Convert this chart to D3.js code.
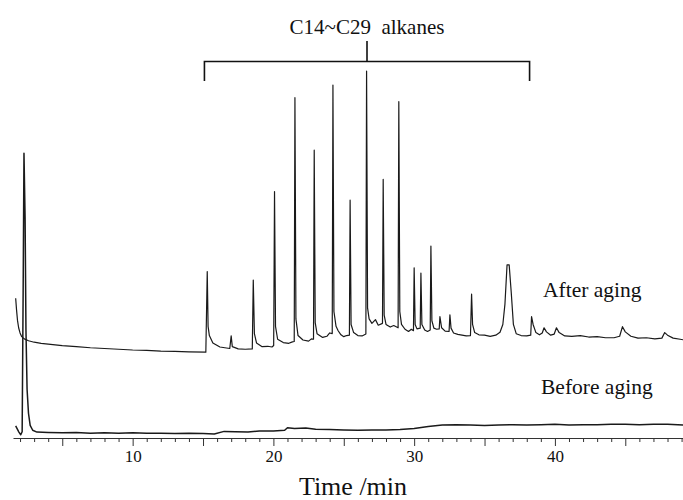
<!DOCTYPE html>
<html>
<head>
<meta charset="utf-8">
<script src="https://cdn.jsdelivr.net/npm/d3@7"></script>
<style>
  html, body { margin: 0; padding: 0; background: #fff; }
  svg { display: block; }
</style>
</head>
<body>
<div id="chart"></div>
<script>
// GC chromatogram: after aging (upper) and before aging (lower)
// [time (min), signal]
const afterAging = [
  [1.69, 38.6], [1.75, 35.5], [1.82, 32.6], [1.9, 30.6], [2.0, 29.2], [2.12, 28.2], [2.3, 27.6],
  [2.6, 27.1], [3.0, 26.7], [3.5, 26.4], [4.0, 26.2], [5.0, 25.8], [6.0, 25.5], [7.0, 25.2],
  [8.0, 25.0], [9.0, 24.8], [10.0, 24.6], [11.0, 24.5], [12.0, 24.3], [13.0, 24.2], [14.0, 24.1],
  [15.2, 24.0],
  [15.3, 45.8], [15.36, 31], [15.45, 28.5], [15.7, 26.5], [16.2, 25.4], [16.9, 25.0],
  [17.0, 28.4], [17.08, 25.5], [17.5, 24.9], [18.0, 24.8], [18.5, 24.9],
  [18.57, 43.5], [18.65, 29], [18.8, 26.5], [19.2, 25.5], [19.6, 25.6], [19.9, 25.4], [20.02, 25.8],
  [20.08, 67.4], [20.15, 31], [20.3, 27.5], [20.7, 26.6], [21.1, 26.4], [21.35, 26.8], [21.48, 26.9],
  [21.53, 92.8], [21.6, 33], [21.75, 28.5], [22.1, 27.3], [22.5, 27.0], [22.7, 27.6], [22.85, 27.5],
  [22.9, 78.6], [22.97, 32], [23.1, 29], [23.5, 28], [23.8, 28.3], [24.0, 29.2], [24.18, 29.0],
  [24.23, 96.2], [24.3, 35], [24.45, 31], [24.6, 29.8], [24.8, 28.7], [25.0, 28.2], [25.2, 28.5], [25.4, 28.6],
  [25.45, 65.1], [25.52, 31.5], [25.7, 29.3], [26.0, 28.5], [26.3, 28.4], [26.57, 28.9],
  [26.62, 100], [26.69, 36], [26.8, 33], [27.0, 31.8], [27.25, 32.8], [27.45, 31.3], [27.75, 31.8],
  [27.8, 70.7], [27.87, 34], [28.0, 31.5], [28.3, 30.8], [28.55, 31.2], [28.86, 30.6],
  [28.91, 91.7], [28.98, 35], [29.1, 31.5], [29.35, 30.2], [29.6, 29.6], [29.8, 30.2], [29.95, 29.8],
  [30.0, 46.8], [30.07, 31.5], [30.2, 30.3], [30.43, 30.5],
  [30.48, 45.4], [30.55, 31.5], [30.75, 30.0], [30.95, 29.6], [31.14, 30.0],
  [31.19, 52.7], [31.26, 32.5], [31.4, 30.5], [31.6, 30.2], [31.78, 30.3],
  [31.83, 33.6], [31.95, 30.6], [32.2, 29.7], [32.48, 29.6],
  [32.54, 34.1], [32.62, 30.5], [32.8, 29.2], [33.1, 28.8], [33.4, 28.6], [33.7, 28.4], [34.0, 28.5],
  [34.08, 39.7], [34.15, 31.5], [34.3, 29.3], [34.6, 28.7], [35.0, 28.6], [35.4, 28.3], [35.8, 28.6], [36.1, 29.4],
  [36.3, 31.5], [36.45, 37], [36.6, 47.6], [36.75, 47.6], [36.9, 40], [37.05, 31.5], [37.25, 29.0],
  [37.6, 28.5], [38.0, 28.4], [38.28, 28.6],
  [38.34, 33.6], [38.45, 31.5], [38.65, 29.3], [38.9, 28.7], [39.1, 29.2], [39.23, 30.6], [39.4, 29.5],
  [39.7, 28.6], [39.95, 28.9], [40.11, 30.6], [40.3, 29.3], [40.7, 28.4], [41.2, 28.3], [41.8, 28.5],
  [42.4, 28.1], [43.0, 28.2], [43.6, 27.9], [44.2, 27.9], [44.6, 28.3], [44.8, 30.9], [45.0, 29.5],
  [45.4, 28.3], [45.9, 27.8], [46.5, 27.9], [47.1, 27.6], [47.6, 27.8], [47.8, 29.3], [48.0, 28.6],
  [48.4, 27.8], [48.9, 27.5], [49.2, 27.3]
];

const beforeAging = [
  [1.69, 4.1], [1.8, 3.3], [1.92, 2.4], [2.05, 1.7], [2.15, 2.5], [2.22, 40], [2.28, 77.8],
  [2.36, 60], [2.42, 30], [2.5, 14], [2.6, 7.5], [2.72, 4.2], [2.9, 2.9], [3.2, 2.4], [4.0, 2.3],
  [5.0, 2.2], [6.0, 2.3], [7.0, 2.1], [8.0, 2.2], [9.0, 2.1], [10.0, 2.2], [11.0, 2.1], [12.0, 2.1],
  [13.0, 2.0], [14.0, 2.1], [15.0, 2.0], [15.8, 1.9], [16.5, 2.6], [17.3, 2.5], [18.2, 2.4],
  [19.0, 2.7], [20.0, 2.7], [20.8, 2.9], [21.0, 3.6], [21.5, 3.4], [22.3, 3.5], [23.0, 3.2],
  [24.0, 3.1], [25.0, 3.0], [26.0, 2.9], [27.0, 3.0], [28.0, 3.0], [29.0, 3.1], [30.0, 3.4],
  [31.0, 3.9], [32.0, 4.3], [33.0, 4.4], [34.0, 4.3], [35.0, 4.2], [36.0, 4.3], [37.0, 4.4],
  [38.0, 4.3], [39.0, 4.4], [40.0, 4.5], [41.0, 4.3], [42.0, 4.4], [43.0, 4.4], [44.0, 4.5],
  [45.0, 4.5], [46.0, 4.4], [47.0, 4.5], [48.0, 4.5], [49.2, 4.3]
];

const tickLabels = [10, 20, 30, 40];
const alkaneRange = [15.1, 38.2];   // C14 ... C29 bracket
const alkaneLabel = 'C14~C29\u00a0\u00a0alkanes';

const width = 683, height = 500;
const serif = '"Liberation Serif", "Times New Roman", serif';

const svg = d3.select('#chart').append('svg')
  .attr('width', width)
  .attr('height', height)
  .attr('font-family', serif);

// x: time in minutes, 10 min ≈ 141 px
const x = d3.scaleLinear().domain([1.5, 49.1]).range([13, 683]);
const y = d3.scaleLinear().domain([0, 100]).range([441, 71]);
const axisY = 438;

const line = d3.line()
  .x(d => x(d[0]))
  .y(d => y(d[1]));

// traces
[beforeAging, afterAging].forEach((series, i) => {
  svg.append('path')
    .datum(series)
    .attr('d', line)
    .attr('fill', 'none')
    .attr('stroke', '#1a1a1a')
    .attr('stroke-width', i === 0 ? 1.5 : 1.2)
    .attr('stroke-linejoin', 'round');
});

// time axis: minor ticks each minute, longer every 5
const axis = d3.axisBottom(x)
  .tickValues(d3.range(2, 50))
  .tickSize(4)
  .tickSizeOuter(0)
  .tickFormat(d => tickLabels.includes(d) ? d : '');

const gAxis = svg.append('g')
  .attr('transform', `translate(0,${axisY})`)
  .call(axis);

gAxis.select('.domain').attr('stroke', '#333').attr('stroke-width', 1);
gAxis.selectAll('.tick line')
  .attr('stroke', '#333')
  .attr('y2', d => d % 5 === 0 ? 8 : 4);
gAxis.selectAll('.tick text')
  .attr('y', 12)
  .attr('dy', '0.71em')
  .attr('fill', '#111')
  .style('font-family', serif)
  .style('font-size', '17px');

svg.append('text')
  .attr('x', 353)
  .attr('y', 495)
  .attr('text-anchor', 'middle')
  .attr('font-size', 26)
  .attr('fill', '#111')
  .text('Time /min');

// alkane bracket
const bx0 = x(alkaneRange[0]), bx1 = x(alkaneRange[1]);
const bmid = (bx0 + bx1) / 2;
const bracket = svg.append('g')
  .attr('fill', 'none')
  .attr('stroke', '#111')
  .attr('stroke-width', 1.6);
bracket.append('path')
  .attr('d', `M${bx0},81 V61.5 H${bx1} V81`);
bracket.append('line')
  .attr('x1', bmid).attr('x2', bmid)
  .attr('y1', 41).attr('y2', 61.5);

svg.append('text')
  .attr('x', bmid)
  .attr('y', 33.5)
  .attr('text-anchor', 'middle')
  .attr('font-size', 21)
  .attr('fill', '#111')
  .text(alkaneLabel);

// trace labels
svg.append('text')
  .attr('x', 543)
  .attr('y', 297)
  .attr('font-size', 21.5)
  .attr('fill', '#111')
  .text('After aging');

svg.append('text')
  .attr('x', 541)
  .attr('y', 394)
  .attr('font-size', 21.5)
  .attr('fill', '#111')
  .text('Before aging');
</script>
</body>
</html>
